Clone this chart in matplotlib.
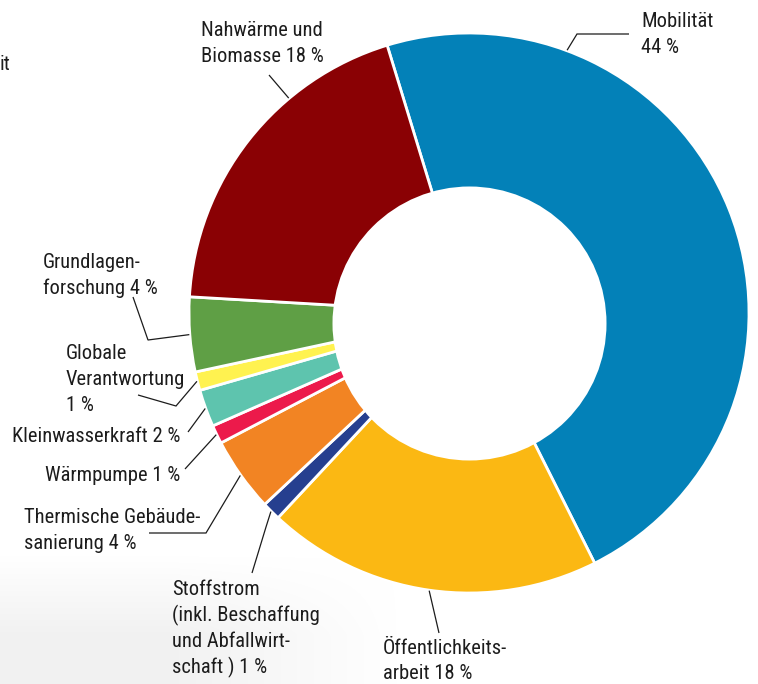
import numpy as np
import matplotlib
matplotlib.use("Agg")
import matplotlib.pyplot as plt
from matplotlib import font_manager
from matplotlib.patches import Circle

# Budget shares per field of action (percent)
categories = [
    "Mobilität",
    "Öffentlichkeitsarbeit",
    "Stoffstrom (inkl. Beschaffung und Abfallwirtschaft)",
    "Thermische Gebäudesanierung",
    "Wärmpumpe",
    "Kleinwasserkraft",
    "Globale Verantwortung",
    "Grundlagenforschung",
    "Nahwärme und Biomasse",
]
shares = [44, 18, 1, 4, 1, 2, 1, 4, 18]
colors = ["#0381B8", "#FBB813", "#263F8F", "#F28423", "#EC1A4B",
          "#5EC4AE", "#FFF250", "#5F9F45", "#8A0104"]
label_templates = [
    "Mobilität\n{} %",
    "Öffentlichkeits-\narbeit {} %",
    "Stoffstrom\n(inkl. Beschaffung\nund Abfallwirt-\nschaft ) {} %",
    "Thermische Gebäude-\nsanierung {} %",
    "Wärmpumpe {} %",
    "Kleinwasserkraft {} %",
    "Globale\nVerantwortung\n{} %",
    "Grundlagen-\nforschung {} %",
    "Nahwärme und\nBiomasse {} %",
]

W, H = 758, 684
fig = plt.figure(figsize=(W / 100, H / 100), dpi=100)
ax = fig.add_axes([0, 0, 1, 1])

available = {f.name for f in font_manager.fontManager.ttflist}
family = next((f for f in ["Liberation Sans Narrow", "Roboto Condensed",
                           "Open Sans Condensed", "DejaVu Sans"] if f in available),
              "DejaVu Sans")
plt.rcParams["font.family"] = [family, "DejaVu Sans"]
FS = 14.8
TXT = "#1c1c1c"


def Y(y):
    """Convert a top-down pixel row into the axes' y coordinate."""
    return H - y


# soft grey shading in the lower left corner
gx = np.linspace(0, 400, 200)
gy = np.linspace(540, 684, 80)
GX, GY = np.meshgrid(gx, gy)
fade = np.clip((GY - 555) / 80, 0, 1) * np.clip((400 - GX) / 230, 0, 1)
shade = np.zeros((len(gy), len(gx), 4))
shade[..., :3] = 0.86
shade[..., 3] = 0.38 * fade
ax.imshow(shade, extent=[0, 400, Y(684), Y(540)], origin="upper",
          interpolation="bilinear", zorder=0, aspect="auto")

# donut
cx, cy, R = 469, 313, 280
wedges, _ = ax.pie(shares, colors=colors, startangle=107, counterclock=False,
                   center=(cx, Y(cy)), radius=R,
                   wedgeprops=dict(edgecolor="white", linewidth=2.0))
for w in wedges:
    w.set_zorder(2)
ax.add_patch(Circle((469.5, Y(323.5)), 137, facecolor="white",
                    edgecolor="none", zorder=3))

# label placement: first baseline (px), leader elbows (px), anchor position within wedge
label_pos = [(641, 27), (383, 654), (172, 595), (24, 523), (45, 481),
             (12, 442), (66, 359), (43, 268), (201, 36)]
leader_path = [
    [(577, 34), (629, 34)],
    [(439, 633)],
    [(266, 527), (252, 573)],
    [(206, 533), (149, 533)],
    [(185, 469)],
    [(188, 432)],
    [(176, 406), (138, 395)],
    [(148, 340), (133, 297)],
    [(269, 75)],
]
anchor_frac = [0.22, 0.5, 0.5, 0.5, 0.5, 0.5, 0.5, 0.5, 0.67]
LINE = 26

for w, val, tmpl, (lx, ly), path, fr in zip(wedges, shares, label_templates,
                                             label_pos, leader_path, anchor_frac):
    a = np.deg2rad(w.theta2 - fr * (w.theta2 - w.theta1))
    ax0 = cx + (R + 0.5) * np.cos(a)
    ay0 = Y(cy) + (R + 0.5) * np.sin(a)
    xs = [ax0] + [p[0] for p in path]
    ys = [ay0] + [Y(p[1]) for p in path]
    ax.plot(xs, ys, color=TXT, lw=0.9, zorder=4, solid_joinstyle="miter",
            solid_capstyle="butt")
    for i, line in enumerate(tmpl.format(val).split("\n")):
        ax.text(lx, Y(ly + i * (LINE - 1 if ly > 640 else LINE)), line,
                ha="left", va="baseline", fontsize=FS, color=TXT, zorder=5)

# tail of a neighbouring caption at the left edge
ax.text(-0.5, Y(70), "it", ha="left", va="baseline", fontsize=FS, color=TXT)

ax.set_xlim(0, W)
ax.set_ylim(0, H)
ax.set_aspect("equal")
ax.axis("off")

fig.savefig("out.png", dpi=100)
